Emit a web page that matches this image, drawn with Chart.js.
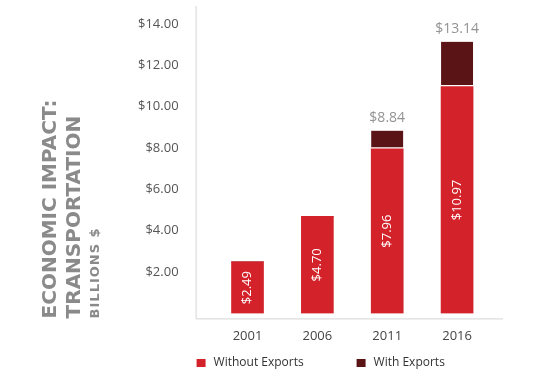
<!DOCTYPE html>
<html>
<head>
<meta charset="utf-8">
<script src="https://cdn.jsdelivr.net/npm/chart.js@4.4.0/dist/chart.umd.min.js"></script>
<style>
  html, body { margin: 0; padding: 0; background: #fff; }
</style>
</head>
<body>
<canvas id="impactChart" width="538" height="383"></canvas>
<script>
const years = ['2001', '2006', '2011', '2016'];
const withoutExports = [2.49, 4.70, 7.96, 10.97];
const withExports = [0, 0, 0.88, 2.17];
const yTicks = [2, 4, 6, 8, 10, 12, 14];
const titleLines = ['ECONOMIC IMPACT:', 'TRANSPORTATION'];
const unitLine = 'BILLIONS $';

const money = v => '$' + v.toFixed(2);

// thin grey axis lines, a bit longer than the plot area like the original
const axisLines = {
  id: 'axisLines',
  beforeDatasetsDraw(chart) {
    const { ctx, chartArea: a } = chart;
    ctx.save();
    ctx.strokeStyle = '#d4d4d4';
    ctx.lineWidth = 1;
    ctx.beginPath();
    ctx.moveTo(a.left - 16.5, a.top - 18);
    ctx.lineTo(a.left - 16.5, a.bottom + 5.5);
    ctx.lineTo(a.right + 11, a.bottom + 5.5);
    ctx.stroke();
    ctx.restore();
  }
};

// values inside the red bars and totals on top of the stacks
const barLabels = {
  id: 'barLabels',
  afterDatasetsDraw(chart) {
    const { ctx } = chart;
    const inner = chart.getDatasetMeta(0).data;
    const outer = chart.getDatasetMeta(1).data;
    ctx.save();
    inner.forEach((bar, i) => {
      ctx.save();
      ctx.translate(bar.x, (bar.y + bar.base) / 2);
      ctx.rotate(-Math.PI / 2);
      ctx.font = '13px "Open Sans"';
      ctx.textAlign = 'center';
      ctx.textBaseline = 'middle';
      ctx.fillStyle = '#fff';
      ctx.fillText(money(withoutExports[i]), 0, 0);
      ctx.restore();
      if (withExports[i] > 0) {
        ctx.font = '14px "Open Sans"';
        ctx.textAlign = 'center';
        ctx.textBaseline = 'middle';
        ctx.fillStyle = '#939393';
        ctx.fillText(money(withoutExports[i] + withExports[i]), outer[i].x, outer[i].y - 13);
      }
    });
    ctx.restore();
  }
};

// rotated title on the left
const sideTitle = {
  id: 'sideTitle',
  afterDraw(chart) {
    const { ctx, chartArea: a } = chart;
    ctx.save();
    ctx.translate(0, a.bottom + 5);
    ctx.rotate(-Math.PI / 2);
    ctx.textAlign = 'left';
    ctx.textBaseline = 'middle';
    ctx.fillStyle = '#8a8a8a';
    ctx.font = 'bold 20px "DejaVu Sans"';
    ctx.fillText(titleLines[0], 0, 51);
    ctx.fillText(titleLines[1], 0, 75);
    ctx.font = 'bold 13px "DejaVu Sans"';
    ctx.letterSpacing = '1px';
    ctx.fillText(unitLine, 0, 96);
    ctx.restore();
  }
};

// legend row under the axis
const bottomLegend = {
  id: 'bottomLegend',
  afterDraw(chart) {
    const { ctx, chartArea: a } = chart;
    const starts = [a.left - 16, a.left + 144];
    ctx.save();
    ctx.font = '12px "Open Sans"';
    ctx.textAlign = 'left';
    ctx.textBaseline = 'middle';
    chart.data.datasets.forEach((ds, i) => {
      const x = starts[i];
      const y = 363;
      ctx.fillStyle = ds.legendColor;
      ctx.fillRect(x, y - 4, 9, 8);
      ctx.fillStyle = '#333';
      ctx.fillText(ds.label, x + 17, y);
    });
    ctx.restore();
  }
};

const tickFont = { family: 'Open Sans', size: 13 };
// invisible tick marks are used as spacing between labels and plot
const hiddenGrid = len => ({
  display: true,
  drawOnChartArea: false,
  drawTicks: true,
  tickLength: len,
  color: 'rgba(0,0,0,0)'
});

new Chart(document.getElementById('impactChart'), {
  type: 'bar',
  data: {
    labels: years,
    datasets: [
      {
        label: 'Without Exports',
        data: withoutExports,
        backgroundColor: '#d3222a',
        legendColor: '#d3222a',
        barThickness: 32
      },
      {
        label: 'With Exports',
        data: withExports,
        backgroundColor: '#5a1416',
        legendColor: '#5a1416',
        borderColor: '#fff',
        borderWidth: { top: 0, left: 0, right: 0, bottom: 2 },
        borderSkipped: false,
        barThickness: 32
      }
    ]
  },
  options: {
    responsive: false,
    animation: false,
    devicePixelRatio: 1,
    layout: { padding: { left: 134, right: 46, top: 24, bottom: 35 } },
    plugins: {
      legend: { display: false },
      tooltip: { enabled: false }
    },
    scales: {
      x: {
        stacked: true,
        grid: hiddenGrid(11),
        border: { display: false },
        ticks: { padding: 4, color: '#444', font: tickFont }
      },
      y: {
        stacked: true,
        min: 0,
        max: 14,
        grid: hiddenGrid(30),
        border: { display: false },
        afterBuildTicks: s => { s.ticks = yTicks.map(v => ({ value: v })); },
        ticks: { padding: 4, color: '#555', font: tickFont, callback: v => money(v) }
      }
    }
  },
  plugins: [axisLines, barLabels, sideTitle, bottomLegend]
});
</script>
</body>
</html>
